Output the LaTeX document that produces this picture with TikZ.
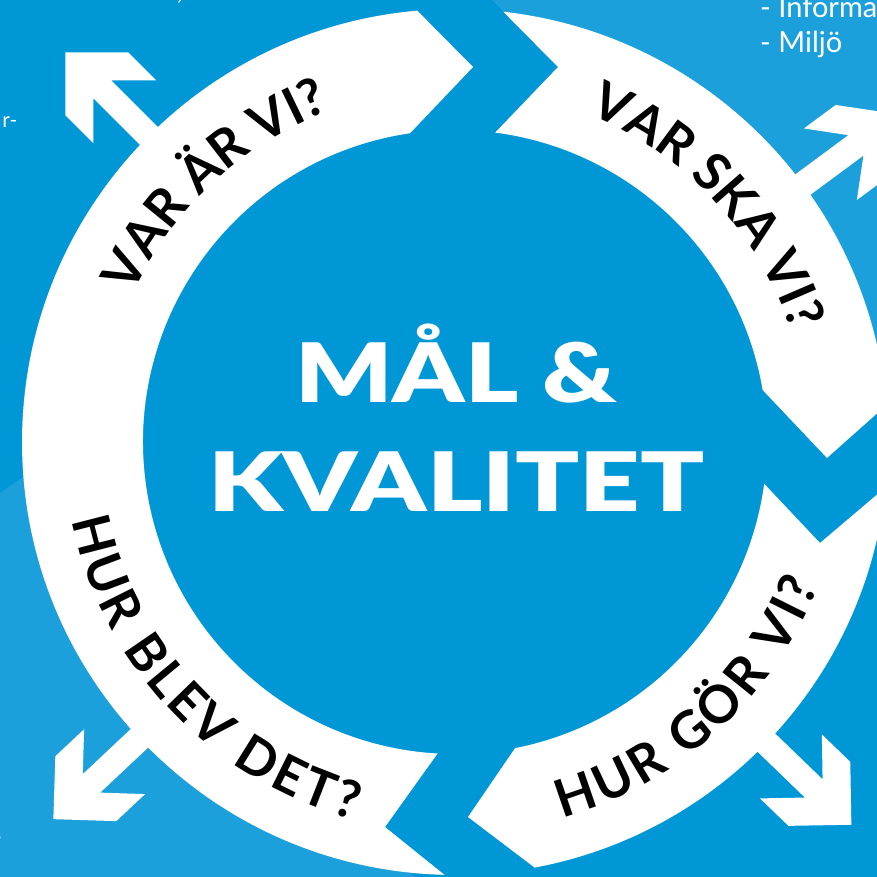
\documentclass[tikz,border=0pt]{standalone}
\usepackage{fontspec}
\setmainfont{Lato}
\newfontfamily\titlefont{Lato Black}
\usetikzlibrary{decorations.text}
\definecolor{bgdark}{HTML}{0097D7}
\definecolor{bglight}{HTML}{1CA0DC}
\newcommand\ringlabelfont{\fontsize{52}{60}\selectfont\bfseries}
\begin{document}
\begin{tikzpicture}[x=1pt,y=1pt,
  ringseg/.style={fill=white},
  outarrow/.style={fill=white},
  sidetext/.style={text=white,inner sep=0pt,font=\fontsize{29}{34}\selectfont},
  titletext/.style={text=white,inner sep=0pt,font=\titlefont\fontsize{82}{90}\selectfont},
  outlabel/.style={decorate,decoration={text along path,text align=center,text color=black,text={|\ringlabelfont|#1}}},
  fitlabel/.style={decorate,decoration={text along path,text align=fit to path,text color=black,text={|\ringlabelfont|#1}}},
]
\useasboundingbox (0,0) rectangle (877,877);
\fill[bgdark] (0,0) rectangle (877,877);
\fill[bglight] (492,877) -- (877,877) -- (877,492) -- cycle;
\fill[bglight] (0,384) -- (40,411) -- (200,177) -- (415,0) -- (0,0) -- cycle;

% side texts (cut by frame)
\node[sidetext,anchor=base west] (info) at (760,859) {- Informa};
\node[sidetext,anchor=base west] (milj) at (760,824) {- Miljö};
\node[sidetext,anchor=base east,font=\fontsize{21}{25}\selectfont] (rdash) at (17.5,749) {r-};
\node[sidetext,anchor=base] (comma) at (180,877) {,};
\node[sidetext,anchor=base east] (dot) at (2.5,37) {.};

\begin{scope}[shift={(455,435)}]
  % arrows
  \foreach \ang in {135,36.5,-44,223.2}{
    \fill[outarrow,rotate=\ang] (551,0) -- (506.5,44.5) -- (467,44.5) -- (498.7,12.7)
      -- (371,12.7) -- (371,-12.7) -- (498.7,-12.7) -- (467,-44.5) -- (506.5,-44.5) -- cycle;
  }
  % VAR SKA VI
  \fill[ringseg] (83.6:433) arc[start angle=83.6,end angle=4.9,radius=433] -- (372,-16)
    -- (9.6:312) arc[start angle=9.6,end angle=82.6,radius=312] -- (103,375) -- cycle;
  % HUR GOR VI
  \fill[ringseg] (-6:433) arc[start angle=-6,end angle=-79.4,radius=433] -- (13,-375)
    -- (-78.9:312) arc[start angle=-78.9,end angle=-7.7,radius=312] -- (365,-101) -- cycle;
  % HUR BLEV DET + VAR AR VI
  \fill[ringseg] (268.6:433) arc[start angle=268.6,end angle=95,radius=433] -- (18,375)
    -- (98.3:312) arc[start angle=98.3,end angle=266.8,radius=312] -- (-70,-385) -- cycle;

  % ring labels
  \path[outlabel={VAR ÄR VI?}] (183:354) arc[start angle=183,end angle=83,radius=354];
  \path[outlabel={VAR SKA VI?}] (93:354) arc[start angle=93,end angle=-7,radius=354];
  \path[fitlabel={HUR GÖR VI?}] (-74:391) arc[start angle=-74,end angle=-21.5,radius=391];
  \path[fitlabel={HUR BLEV DET?}] (191.5:391) arc[start angle=191.5,end angle=255,radius=391];
\end{scope}

% centre title
\node[titletext,anchor=base] (t1) at (456,474) {\scalebox{1.24}[1]{MÅL \&}};
\node[titletext,anchor=base] (t2) at (456.5,365) {\scalebox{1.29}[1]{KVALITET}};
\end{tikzpicture}
\end{document}
